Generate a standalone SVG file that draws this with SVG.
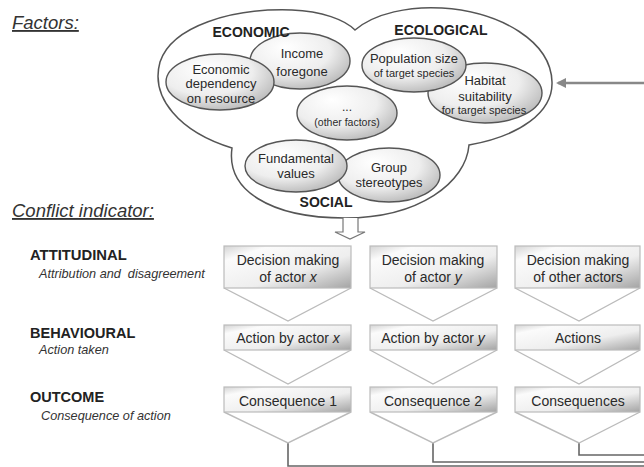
<svg xmlns="http://www.w3.org/2000/svg" width="644" height="467" viewBox="0 0 644 467">
<defs>
<radialGradient id="eg" cx="0.4" cy="0.35" r="0.7" fx="0.35" fy="0.25">
<stop offset="0" stop-color="#ffffff"/>
<stop offset="0.6" stop-color="#eeeeee"/>
<stop offset="1" stop-color="#b8b8b8"/>
</radialGradient>
<linearGradient id="bg" x1="0" y1="0" x2="1" y2="1">
<stop offset="0" stop-color="#d4d4d4"/>
<stop offset="0.18" stop-color="#fbfbfb"/>
<stop offset="0.6" stop-color="#eeeeee"/>
<stop offset="1" stop-color="#a4a4a4"/>
</linearGradient>
<marker id="ah" viewBox="0 0 10 10" refX="8" refY="5" markerWidth="4" markerHeight="4" orient="auto">
<path d="M0,0 L10,5 L0,10 Z" fill="#888"/>
</marker>
<style>
.ell{fill:url(#eg);stroke:#555;stroke-width:1.4}
.box{fill:url(#bg);stroke:#bbb;stroke-width:1.2}
.tri{fill:#fff;stroke:#bbb;stroke-width:1.4}
.t{font-family:"Liberation Sans",Arial,sans-serif;fill:#2a2a2a;text-anchor:middle}
.lb{font-family:"Liberation Sans",Arial,sans-serif;fill:#222;font-weight:bold}
.li{font-family:"Liberation Sans",Arial,sans-serif;fill:#333;font-style:italic}
.hd{font-family:"Liberation Sans",Arial,sans-serif;fill:#333;font-style:italic;font-size:18.5px;text-decoration:underline}
.cn{fill:none;stroke:#666;stroke-width:1.6}
</style>
</defs>
<rect width="644" height="467" fill="#fff"/>
<g id="headings">
<text class="hd" x="12" y="29" font-size="19">Factors:</text>
<text class="hd" x="12" y="217">Conflict indicator:</text>
</g>
<g id="factors-outline">
<path d="M232,148 C180,132 150,98 160,62 C172,26 232,8 292,10 C322,11 345,20 355,30 C375,13 410,6 442,8 C502,12 551,42 552,82 C553,112 520,136 469,145 C466,182 420,218 345,218 C270,218 226,190 232,148 Z" fill="#fff" stroke="#555" stroke-width="1.5"/>
</g>
<g id="income">
<ellipse class="ell" cx="300" cy="61" rx="50" ry="28"/>
<text class="t" x="302" y="58" font-size="13">Income</text>
<text class="t" x="302" y="76" font-size="13">foregone</text>
</g>
<g id="dependency">
<ellipse class="ell" cx="220" cy="82" rx="54" ry="28"/>
<text class="t" x="221" y="74" font-size="13">Economic</text>
<text class="t" x="221" y="88" font-size="13">dependency</text>
<text class="t" x="221" y="103" font-size="13">on resource</text>
</g>
<g id="habitat">
<ellipse class="ell" cx="485" cy="93" rx="57" ry="30"/>
<text class="t" x="485" y="85" font-size="13">Habitat</text>
<text class="t" x="485" y="101" font-size="13">suitability</text>
<text class="t" x="484" y="114" font-size="11">for target species</text>
</g>
<g id="population">
<ellipse class="ell" cx="414" cy="65" rx="52" ry="27"/>
<text class="t" x="414" y="63" font-size="13">Population size</text>
<text class="t" x="414" y="77" font-size="11">of target species</text>
</g>
<g id="other">
<ellipse class="ell" cx="347" cy="113" rx="50" ry="27"/>
<text class="t" x="347" y="111" font-size="12">...</text>
<text class="t" x="347" y="126" font-size="10.5">(other factors)</text>
</g>
<g id="stereotypes">
<ellipse class="ell" cx="389" cy="175" rx="51" ry="27"/>
<text class="t" x="389" y="172" font-size="13">Group</text>
<text class="t" x="389" y="187" font-size="13">stereotypes</text>
</g>
<g id="values">
<ellipse class="ell" cx="296" cy="166" rx="51" ry="26"/>
<text class="t" x="296" y="163" font-size="13">Fundamental</text>
<text class="t" x="296" y="178" font-size="13">values</text>
</g>
<g id="group-labels">
<text class="lb" x="251" y="37" font-size="14" text-anchor="middle">ECONOMIC</text>
<text class="lb" x="441" y="35" font-size="14" text-anchor="middle">ECOLOGICAL</text>
<text class="lb" x="326" y="207" font-size="14" text-anchor="middle">SOCIAL</text>
</g>
<g id="connectors">
<line x1="644" y1="83" x2="558" y2="83" stroke="#888" stroke-width="2.5" marker-end="url(#ah)"/>
<path d="M343,218 V232 H335 L350,239 L365,232 H358 V218" fill="#fff" stroke="#777" stroke-width="1.2"/>
<path class="cn" d="M288,443 V466 H644"/>
<path class="cn" d="M433,443 V462 H644"/>
<path class="cn" d="M579,443 V455 H644"/>
</g>
<g id="levels">
<text class="lb" x="30" y="260" font-size="14.8">ATTITUDINAL</text>
<text class="li" x="39" y="278" font-size="12.7" xml:space="preserve">Attribution and  disagreement</text>
<text class="lb" x="30" y="338" font-size="14.5">BEHAVIOURAL</text>
<text class="li" x="39" y="354" font-size="12.7">Action taken</text>
<text class="lb" x="30" y="402" font-size="14.5">OUTCOME</text>
<text class="li" x="41" y="420" font-size="12.7">Consequence of action</text>
</g>
<g id="col1">
<path class="tri" d="M224,288 L288,321 L351,288"/>
<rect class="box" x="224" y="246" width="127" height="42"/>
<text class="t" x="288" y="265" font-size="14">Decision making</text>
<text class="t" x="288" y="282" font-size="14">of actor <tspan font-style="italic">x</tspan></text>
<path class="tri" d="M224,350 L288,384 L351,350"/>
<rect class="box" x="224" y="325" width="127" height="25"/>
<text class="t" x="288" y="343" font-size="14">Action by actor <tspan font-style="italic">x</tspan></text>
<path class="tri" d="M224,412 L288,443 L351,412"/>
<rect class="box" x="224" y="387" width="127" height="25"/>
<text class="t" x="288" y="406" font-size="14">Consequence 1</text>
</g>
<g id="col2">
<path class="tri" d="M370,288 L433,321 L497,288"/>
<rect class="box" x="370" y="246" width="127" height="42"/>
<text class="t" x="433" y="265" font-size="14">Decision making</text>
<text class="t" x="433" y="282" font-size="14">of actor <tspan font-style="italic">y</tspan></text>
<path class="tri" d="M370,350 L433,384 L497,350"/>
<rect class="box" x="370" y="325" width="127" height="25"/>
<text class="t" x="433" y="343" font-size="14">Action by actor <tspan font-style="italic">y</tspan></text>
<path class="tri" d="M370,412 L433,443 L497,412"/>
<rect class="box" x="370" y="387" width="127" height="25"/>
<text class="t" x="433" y="406" font-size="14">Consequence 2</text>
</g>
<g id="col3">
<path class="tri" d="M515,288 L579,321 L640,288"/>
<rect class="box" x="515" y="246" width="125" height="42"/>
<text class="t" x="578" y="265" font-size="14">Decision making</text>
<text class="t" x="578" y="282" font-size="14">of other actors</text>
<path class="tri" d="M515,350 L579,384 L640,350"/>
<rect class="box" x="515" y="325" width="125" height="25"/>
<text class="t" x="578" y="343" font-size="14">Actions</text>
<path class="tri" d="M515,412 L579,443 L640,412"/>
<rect class="box" x="515" y="387" width="125" height="25"/>
<text class="t" x="578" y="406" font-size="14">Consequences</text>
</g>
</svg>
